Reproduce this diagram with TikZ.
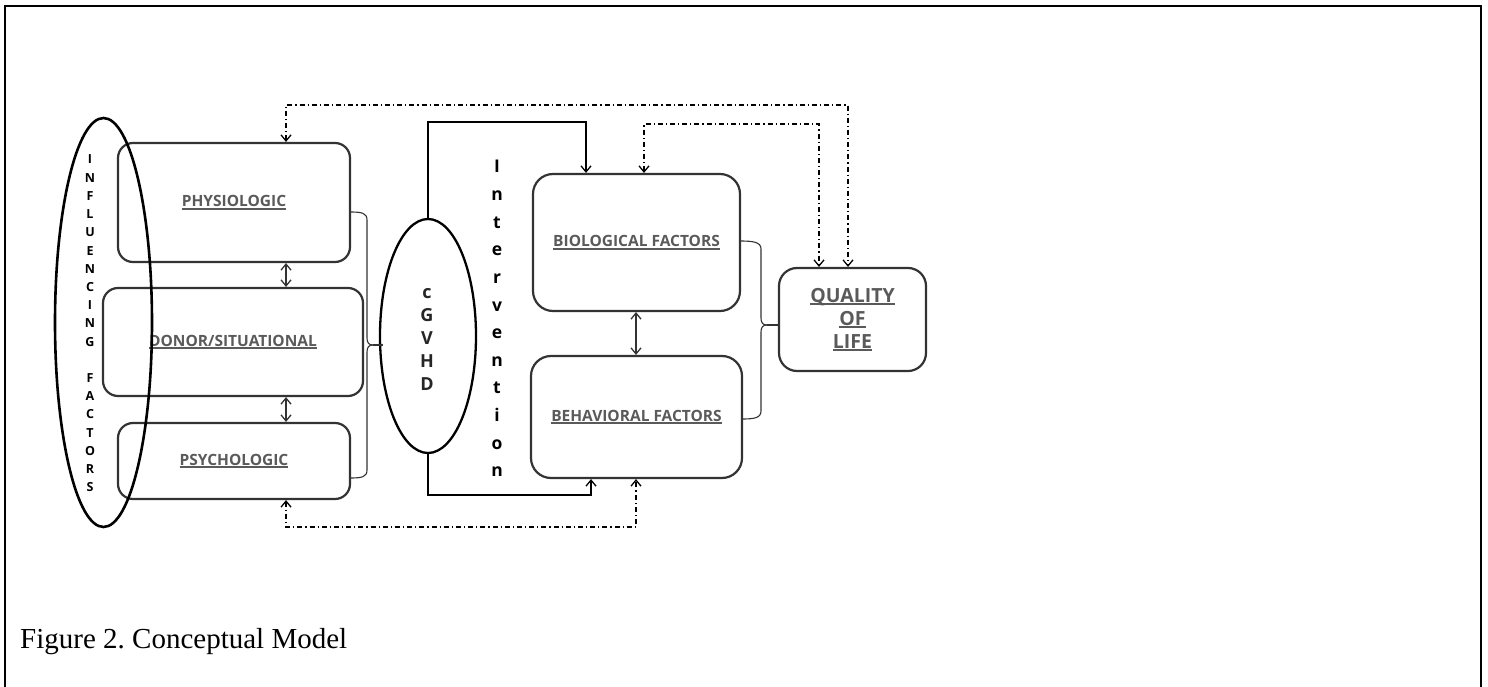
\documentclass[tikz,border=0pt]{standalone}
\usepackage{fontspec}
\setmainfont{Liberation Serif}
\newfontfamily\lblfont{Open Sans}
\usetikzlibrary{shapes.geometric,arrows.meta}
\definecolor{boxline}{HTML}{333333}
\definecolor{labelgray}{HTML}{5A5A5A}
\newsavebox\ulinebox
% thick underline under a box label
\newcommand\ulabel[1]{\sbox\ulinebox{#1}\rlap{\rule[-3pt]{\wd\ulinebox}{1.7pt}}\usebox\ulinebox}
\tikzset{
  >={Straight Barb[length=6pt,width=10pt,line width=1.3pt]},
  factorbox/.style={draw=boxline, line width=2.2pt, rounded corners=15pt, text=labelgray,
    font=\lblfont\bfseries\fontsize{15.5}{18}\selectfont, inner sep=0pt, align=center},
  bigbox/.style={factorbox, rounded corners=20pt},
  oval/.style={draw=black, ellipse, inner sep=0pt},
  infletter/.style={anchor=base, inner sep=0pt, font=\lblfont\bfseries\fontsize{12.5}{14}\selectfont},
  intletter/.style={anchor=base, inner sep=0pt, font=\lblfont\bfseries\fontsize{17.5}{20}\selectfont},
  gvletter/.style={anchor=base, inner sep=0pt, text=black!85, font=\lblfont\bfseries\fontsize{18}{20}\selectfont},
  linkline/.style={draw=black, line width=1.5pt},
  bothways/.style={draw=boxline, line width=1.6pt, <->},
  bracket/.style={draw=boxline, line width=1.1pt},
  feedback/.style={draw=black, line width=1.3pt, <->, dash pattern=on 5pt off 3pt on 1.2pt off 3pt},
}
\begin{document}
\begin{tikzpicture}[x=1pt,y=-1pt]
\useasboundingbox (0,0) rectangle (1488,687);
% page frame
\draw[line width=2.2pt] (5,700) -- (5,6) -- (1481,6) -- (1481,700);

% influencing factors
\node[factorbox, minimum width=232pt, minimum height=119pt] (phys) at (234,202.5) {\ulabel{PHYSIOLOGIC}};
\node[factorbox, minimum width=260pt, minimum height=108pt] (donor) at (233,342) {\ulabel{DONOR/SITUATIONAL}};
\node[factorbox, minimum width=232pt, minimum height=76pt] (psych) at (234,461) {\ulabel{PSYCHOLOGIC}};

\node[oval, line width=2.6pt, minimum width=97pt, minimum height=409pt] (infl) at (103.5,322.5) {};
\foreach \ch/\k in {I/0,N/1,F/2,L/3,U/4,E/5,N/6,C/7,I/8,N/9,G/10,F/12,A/13,C/14,T/15,O/16,R/17,S/18}
  \node[infletter] (inf\k) at (90,{164+18.2*\k}) {\ch};

% cGVHD
\node[oval, line width=2.3pt, minimum width=96pt, minimum height=234pt] (cg) at (428,336) {};
\foreach \ch [count=\i from 0] in {c,G,V,H,D}
  \node[gvletter] (gv\i) at (427,{298+23*\i}) {\ch};

% intervention
\foreach \ch [count=\i from 0] in {I,n,t,e,r,v,e,n,t,i,o,n}
  \node[intletter] (int\i) at (497,{173+27.6*\i}) {\ch};

% outcome factors
\node[bigbox, minimum width=207pt, minimum height=137pt] (bio) at (636.5,242.5) {\ulabel{BIOLOGICAL FACTORS}};
\node[bigbox, minimum width=211pt, minimum height=122pt] (beh) at (636.5,417) {\ulabel{BEHAVIORAL FACTORS}};
\node[factorbox, rounded corners=18pt, minimum width=147pt, minimum height=103pt,
  font=\lblfont\bfseries\fontsize{19.5}{23}\selectfont] (qol) at (852.5,319.5)
  {\ulabel{QUALITY}\\\ulabel{OF}\\\ulabel{LIFE}};

% two-way links between stacked boxes
\coordinate (ax) at (286,0);
\draw[bothways] (phys.south -| ax) -- (donor.north -| ax);
\draw[bothways] (donor.south -| ax) -- (psych.north -| ax);
\coordinate (bx) at (636,0);
\draw[bothways] (bio.south -| bx) -- (beh.north -| bx);

% bracket joining the influencing factors to cGVHD
\coordinate (ltip) at (373,345);
\draw[bracket] (350,212) .. controls (362,212) and (367,213) .. (367,220) -- (367,338)
  .. controls (367,343) and (369,345) .. (ltip);
\draw[bracket] (350,478) .. controls (362,478) and (367,477) .. (367,470) -- (367,352)
  .. controls (367,347) and (369,345) .. (ltip);
\draw[bracket] (ltip) -- ([xshift=4pt]cg.west |- ltip);

% bracket joining outcome factors to quality of life
\coordinate (rtip) at (767,325);
\draw[bracket] (740,241) .. controls (753,241) and (761,242) .. (761,249) -- (761,318)
  .. controls (761,323) and (763,325) .. (rtip);
\draw[bracket] (742,419) .. controls (754,419) and (761,418) .. (761,411) -- (761,332)
  .. controls (761,327) and (763,325) .. (rtip);
\draw[bracket] (rtip) -- (qol.west |- rtip);

% intervention paths
\coordinate (itop) at (586,122);
\coordinate (ibot) at (591,495);
\draw[linkline, ->] (cg.north) |- (itop) -- (bio.north -| itop);
\draw[linkline, ->] (cg.south) |- (ibot) -- (beh.south -| ibot);

% feedback loops
\coordinate (f1a) at (286,105);
\coordinate (f1b) at (848,105);
\draw[feedback] (phys.north -| f1a) -- (f1a) -- (f1b) -- (qol.north -| f1b);
\coordinate (f2a) at (644,124);
\coordinate (f2b) at (819,124);
\draw[feedback] (bio.north -| f2a) -- (f2a) -- (f2b) -- (qol.north -| f2b);
\coordinate (f3a) at (286,527);
\coordinate (f3b) at (636,527);
\draw[feedback] (psych.south -| f3a) -- (f3a) -- (f3b) -- (beh.south -| f3b);

% caption
\node[anchor=base west, inner sep=0pt, font=\fontsize{29}{34}\selectfont] (caption) at (20,648) {Figure 2.\ Conceptual Model};
\end{tikzpicture}
\end{document}
